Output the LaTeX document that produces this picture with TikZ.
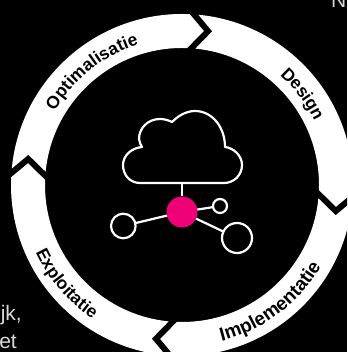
\documentclass[tikz,border=0pt]{standalone}
\usepackage{fontspec}
\setmainfont{Liberation Sans}
\usetikzlibrary{decorations.text}
\definecolor{hubpink}{HTML}{EE0077}
\definecolor{bodygrey}{HTML}{D8D8D8}
\newcommand{\lblfont}{\fontsize{17.5}{19}\selectfont\bfseries}
\newcommand{\lblfontwide}{\fontsize{19}{21}\selectfont\bfseries}
\tikzset{
  iconline/.style={draw=white,line width=2.2pt},
  leaf/.style={circle,iconline,fill=black,inner sep=0pt,outer sep=0pt},
  hub/.style={circle,fill=hubpink,minimum size=31pt,inner sep=0pt,outer sep=0pt},
  chevron/.style={draw=black,line width=6pt,miter limit=10},
  bodytext/.style={text=bodygrey,font=\fontsize{21}{23}\selectfont,inner sep=0pt},
  ringlabel/.style={decorate,decoration={text along path,text align=center,
    text={|\lblfont|#1}}},
  ringlabelwide/.style={decorate,decoration={text along path,text align=center,
    text={|\lblfontwide|#1}}}
}
\begin{document}
\begin{tikzpicture}[x=1pt,y=1pt]
\useasboundingbox (0,0) rectangle (347,352);
\clip (0,0) rectangle (347,352);
\fill[black] (0,0) rectangle (347,352);
\node[bodytext,anchor=base west] (t1) at (331,344) {N};
\node[bodytext,anchor=base east] (t2) at (22,31) {jk,};
\node[bodytext,anchor=base east] (t3) at (17,3) {et};
\coordinate (C) at (182,167);
\fill[white,even odd rule] (C) circle[radius=171pt] (C) circle[radius=137pt];
\foreach \r in {0,-90,-180,-270}{
  \begin{scope}[shift={(C)},rotate=\r]
    \draw[chevron] (87.5:176pt) -- (80.4:156pt) -- (88:132pt);
  \end{scope}
}
\begin{scope}[shift={(C)}]
  \path[ringlabel=Optimalisatie] (170:147pt) arc[start angle=170,end angle=87,radius=147pt];
  \path[ringlabel=Design] (80:147pt) arc[start angle=80,end angle=-6,radius=147pt];
  \path[ringlabelwide=Implementatie] (-95:161pt) arc[start angle=-95,end angle=-11,radius=161pt];
  \path[ringlabel=Exploitatie] (178:161pt) arc[start angle=178,end angle=263,radius=161pt];
\end{scope}
% icon
\draw[iconline,line join=round] (140,169) -- (224,169)
  .. controls (234,169) and (242,177) .. (242,187)
  .. controls (242,196) and (234,204) .. (225,205)
  .. controls (225,225) and (212,241) .. (195,241)
  .. controls (186,241) and (178,236) .. (172,230)
  .. controls (168,232) and (164,233) .. (160,233)
  .. controls (148,233) and (139,224) .. (139,213)
  .. controls (139,210) and (141,207) .. (142,205)
  .. controls (131,204) and (123,196) .. (123,187)
  .. controls (123,177) and (130,169) .. (140,169) -- cycle;
\coordinate (cloudbase) at (182,169);
\node[hub] (h) at (182,140) {};
\node[leaf,minimum size=14pt] (a) at (220,146) {};
\node[leaf,minimum size=24.6pt] (b) at (123.3,126) {};
\node[leaf,minimum size=30pt] (c) at (237,114) {};
\draw[iconline] (cloudbase) -- (h);
\draw[iconline] (h) -- (a);
\draw[iconline] (h) -- (b);
\draw[iconline] (h) -- (c);
\end{tikzpicture}
\end{document}
